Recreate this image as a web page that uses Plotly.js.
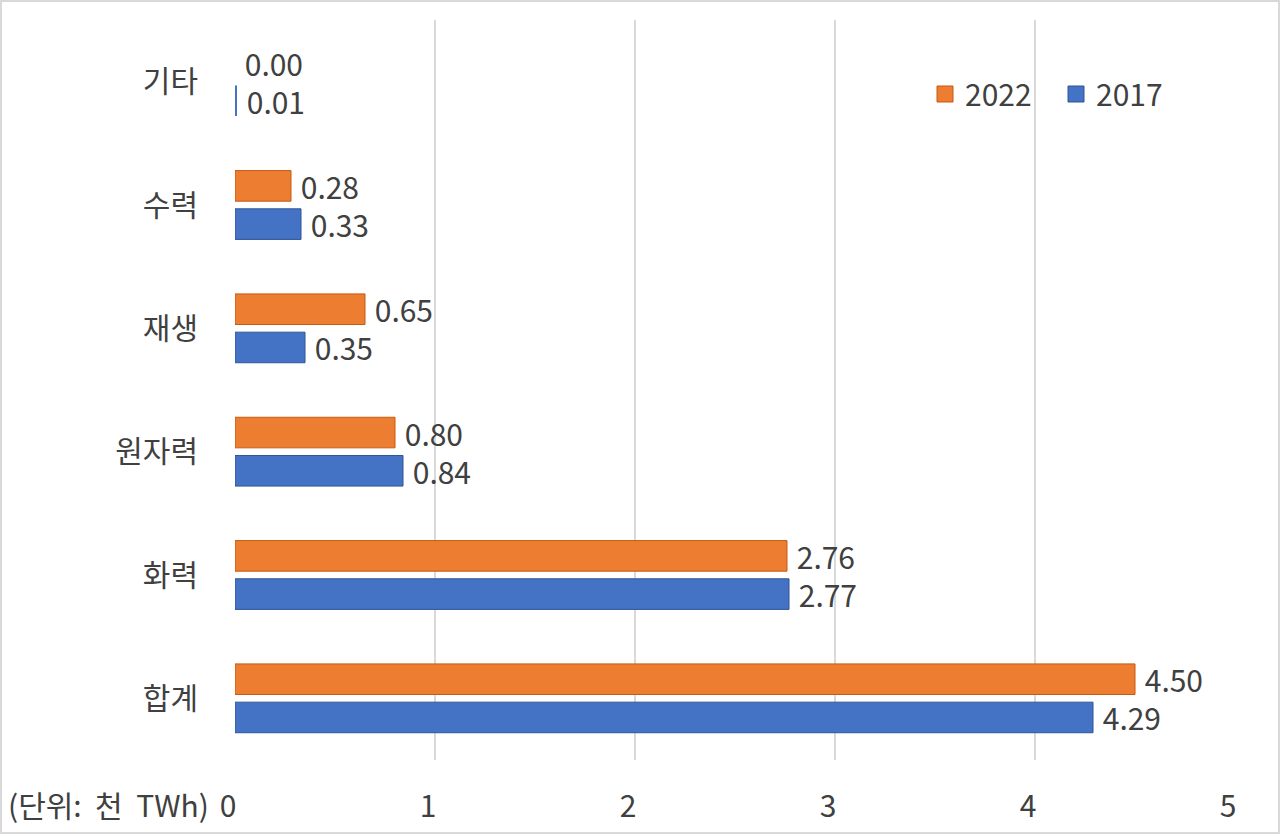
<!DOCTYPE html>
<html>
<head>
<meta charset="utf-8">
<script src="https://cdn.plot.ly/plotly-3.0.1.min.js"></script>
<style>
html,body{margin:0;padding:0;background:#fff;}
#wrap{width:1280px;height:834px;box-sizing:border-box;border:2px solid #d9d9d9;}
#chart{width:1276px;height:830px;}
</style>
</head>
<body>
<div id="wrap"><div id="chart"></div></div>
<script>
const categories = ['합계', '화력', '원자력', '재생', '수력', '기타'];
const values2017 = [4.29, 2.77, 0.84, 0.35, 0.33, 0.01];
const values2022 = [4.50, 2.76, 0.80, 0.65, 0.28, 0.00];
const xTicks = [0, 1, 2, 3, 4, 5];

const FONT = '"Noto Sans CJK KR", "Noto Sans", sans-serif';
const TXT = '#404040';
const FS = 30;
const BLUE = '#4472C4', BLUE_EDGE = '#2F5597';
const ORANGE = '#ED7D31', ORANGE_EDGE = '#C55A11';

function barTrace(name, vals, color, edge) {
  return {
    type: 'bar', orientation: 'h', name: name, showlegend: false,
    y: categories, x: vals,
    marker: {color: color, line: {color: edge, width: vals.map(v => v < 0.02 ? 0 : 1)}},
    text: vals.map(v => '\u00a0' + v.toFixed(2)),
    textposition: 'outside', cliponaxis: false, constraintext: 'none',
    textfont: {family: FONT, size: FS, color: TXT},
    hoverinfo: 'x+name'
  };
}
function legendTrace(name, color, edge) {
  return {
    type: 'scatter', mode: 'markers', name: name, x: [null], y: [null],
    marker: {symbol: 'square', size: 18, color: color, line: {color: edge, width: 1}},
    showlegend: true, hoverinfo: 'skip'
  };
}

const traces = [
  barTrace('2017', values2017, BLUE, BLUE_EDGE),
  barTrace('2022', values2022, ORANGE, ORANGE_EDGE),
  legendTrace('2022', ORANGE, ORANGE_EDGE),
  legendTrace('2017', BLUE, BLUE_EDGE)
];

const layout = {
  width: 1276, height: 830,
  margin: {l: 233, r: 43, t: 18, b: 72},
  paper_bgcolor: '#fff', plot_bgcolor: '#fff',
  font: {family: FONT, size: FS, color: TXT},
  barmode: 'group', bargap: 0.38, bargroupgap: 0.2,
  showlegend: true,
  legend: {
    orientation: 'h', traceorder: 'normal', itemsizing: 'trace',
    x: 0.69, y: 0.9, xanchor: 'left', yanchor: 'middle',
    entrywidth: 86, entrywidthmode: 'pixels',
    font: {family: FONT, size: FS, color: TXT},
    bgcolor: 'rgba(0,0,0,0)'
  },
  xaxis: {
    range: [0, 5], tickvals: xTicks, ticktext: xTicks.map(String),
    showgrid: true, gridcolor: '#d9d9d9', gridwidth: 2,
    zeroline: false, showline: false,
    ticks: 'outside', ticklen: 20, tickcolor: 'rgba(0,0,0,0)',
    ticklabelshift: -7,
    tickfont: {family: FONT, size: FS, color: TXT},
    fixedrange: true
  },
  yaxis: {
    type: 'category', categoryorder: 'array', categoryarray: categories,
    showgrid: false, zeroline: false, showline: false,
    ticks: 'outside', ticklen: 30, tickcolor: 'rgba(0,0,0,0)',
    tickfont: {family: FONT, size: FS, color: TXT},
    fixedrange: true
  },
  annotations: [{
    text: '(단위:  천  TWh)', xref: 'paper', yref: 'paper',
    x: -0.229, y: 0, xanchor: 'left', yanchor: 'top', yshift: -20,
    showarrow: false, font: {family: FONT, size: FS, color: TXT}
  }]
};

Plotly.newPlot('chart', traces, layout, {displayModeBar: false, staticPlot: true});
</script>
</body>
</html>
